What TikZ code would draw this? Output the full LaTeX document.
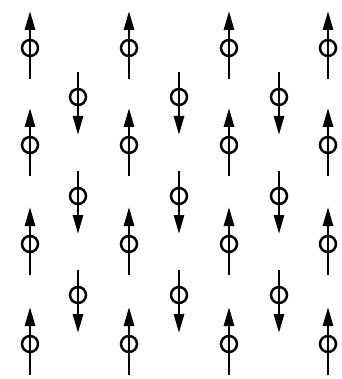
\documentclass[tikz,border=0pt]{standalone}
\usetikzlibrary{arrows.meta}
\tikzset{
  spinline/.style={line width=2.7pt, -{Triangle[length=19pt,width=10pt]}},
  spinring/.style={circle, draw, line width=2.5pt, minimum size=16pt, inner sep=0pt},
  pics/upspin/.style={code={
    \draw[spinline] (0,31) -- (0,-37);
    \node[spinring] (-c) at (0,0) {};
  }},
  pics/downspin/.style={code={
    \draw[spinline] (0,-25) -- (0,38);
    \node[spinring] (-c) at (0,0) {};
  }}
}
\begin{document}
\begin{tikzpicture}[x=1pt,y=-1pt]
\useasboundingbox (0,0) rectangle (341,379);
\foreach \x [count=\i] in {30,129,229,328}{
  \foreach \y [count=\j] in {48,145,244,344}{
    \pic (u\i\j) at (\x,\y) {upspin};
  }
}
\foreach \x [count=\i] in {78,179,279}{
  \foreach \y [count=\j] in {97,196,295}{
    \pic (d\i\j) at (\x,\y) {downspin};
  }
}
\end{tikzpicture}
\end{document}
